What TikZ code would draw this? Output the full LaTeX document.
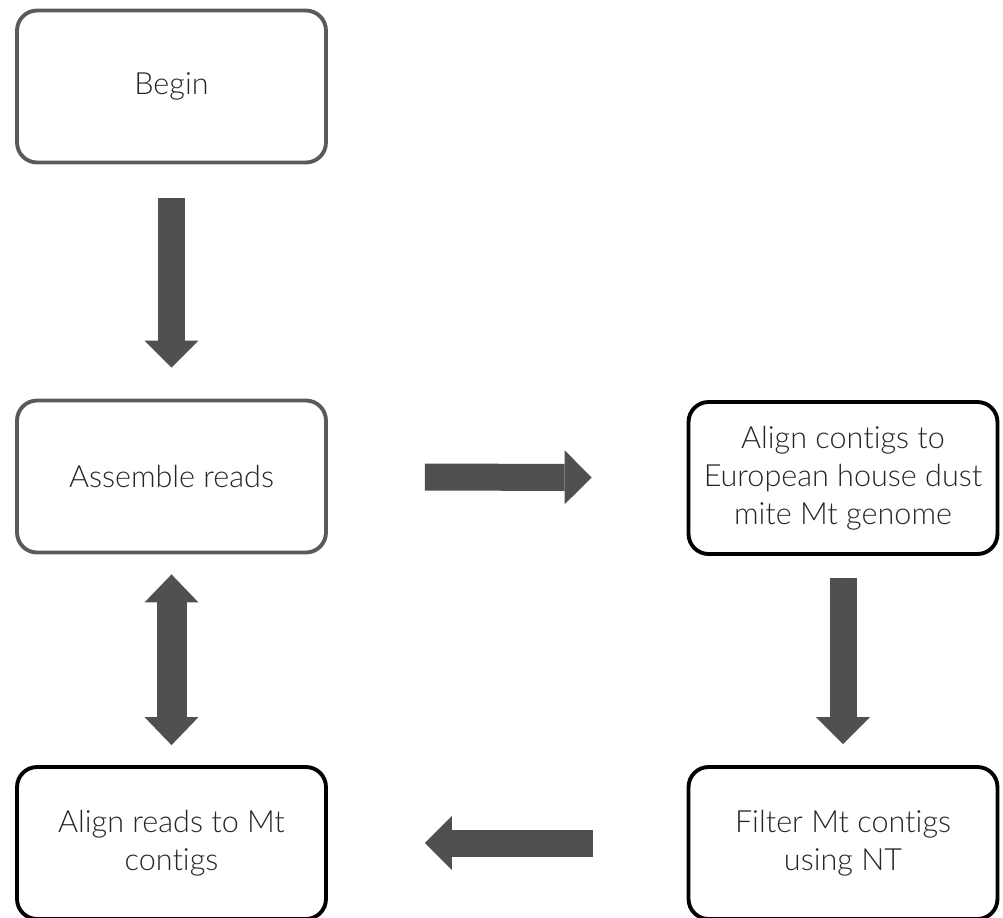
\documentclass[tikz,border=0pt]{standalone}
\usepackage{fontspec}
\IfFontExistsTF{Lato Light}{\setmainfont{Lato Light}[Ligatures=NoCommon,RawFeature={-calt;-dlig}]}{\setmainfont{Lato}[Ligatures=NoCommon]}
\usetikzlibrary{arrows.meta}
\definecolor{arrowgray}{HTML}{505050}
\definecolor{edgegray}{HTML}{5A5A5A}
\tikzset{
  stepbox/.style={draw, fill=white, rounded corners=0.4cm, line width=2.2pt,
    minimum width=6.18cm, minimum height=3.04cm, align=center,
    font=\fontsize{17.4}{21.6}\selectfont, text=black!85},
  greybox/.style={stepbox, draw=edgegray},
  blockarrow/.style={draw=arrowgray, fill=arrowgray, line width=0.54cm, -{Triangle[length=0.54cm,width=1.08cm,line width=0pt]}},
}
\begin{document}
\begin{tikzpicture}[x=0.02cm, y=-0.02cm]
        \useasboundingbox (0,0) rectangle (1003,917);

        % Boxes
        \node[greybox] (begin) at (171.5,86.5) {Begin};
        \node[greybox] (assemble) at (171.5,476.5) {Assemble reads};
        \node[stepbox] (aligncontigs) at (843,478) {Align contigs to\\European house dust\\mite Mt genome};
        \node[stepbox] (filter) at (843,843) {Filter Mt contigs\\using NT};
        \node[stepbox] (alignreads) at (171.5,843) {Align reads to Mt\\contigs};

        % Arrows
        \draw[blockarrow, shorten <=0.68cm, shorten >=0.62cm] (begin) -- (assemble);
        \draw[blockarrow, shorten <=1.94cm, shorten >=1.9cm] (assemble) -- (aligncontigs);
        \draw[blockarrow, shorten <=0.44cm, shorten >=0.42cm] (aligncontigs) -- (filter);
        \draw[blockarrow, shorten <=1.88cm, shorten >=1.94cm] (filter) -- (alignreads);
        \draw[blockarrow, line width=0.6cm, {Triangle[length=0.56cm,width=1.08cm,line width=0pt]}-{Triangle[length=0.56cm,width=1.08cm,line width=0pt]}, shorten <=0.4cm, shorten >=0.4cm] (assemble) -- (alignreads);
    \end{tikzpicture}
\end{document}
